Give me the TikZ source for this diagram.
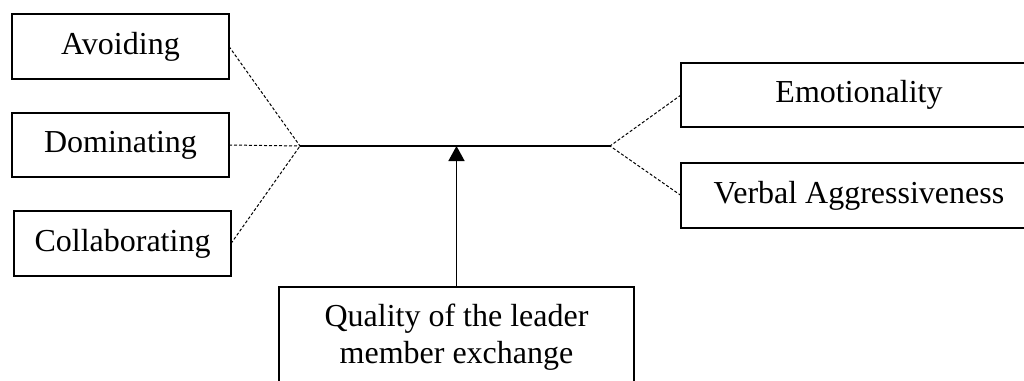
\documentclass[tikz,border=0pt]{standalone}
\usepackage{fontspec}
\setmainfont{Liberation Serif}
\usetikzlibrary{arrows.meta}
\begin{document}
\begin{tikzpicture}[x=1pt,y=-1pt,
  box/.style={draw, line width=1.2pt, inner sep=0pt, outer sep=0pt, align=center,
    font=\fontsize{32}{37}\selectfont},
  link/.style={line width=1pt, dash pattern=on 3pt off 2pt},
  mainline/.style={line width=1.3pt},
  arrowline/.style={line width=1.5pt, -{Triangle[width=16pt,length=15pt]}}]
\useasboundingbox (0,0) rectangle (1024,380);
\node[box, minimum width=217pt, minimum height=65pt] (avo) at (120.5,46.5) {Avoiding};
\node[box, minimum width=217pt, minimum height=64pt] (dom) at (120.5,145) {Dominating};
\node[box, minimum width=217pt, minimum height=65pt] (col) at (122.5,243.5) {Collaborating};
\node[box, minimum width=356pt, minimum height=64pt] (emo) at (859,95) {Emotionality};
\node[box, minimum width=356pt, minimum height=65pt] (verb) at (859,195.5) {Verbal Aggressiveness};
\node[box, minimum width=355pt, minimum height=100pt] (qual) at (456.5,337) {Quality of the leader\\member exchange};
\coordinate (jl) at (300,146);
\coordinate (jr) at (610,146);
\draw[link] (avo.east) -- (jl);
\draw[link] (dom.east) -- (jl);
\draw[link] (col.east) -- (jl);
\draw[link] (emo.west) -- (jr);
\draw[link] (verb.west) -- (jr);
\draw[mainline] (jl) -- (jr);
\draw[arrowline] (qual.north) -- (qual.north |- jl);
\end{tikzpicture}
\end{document}
